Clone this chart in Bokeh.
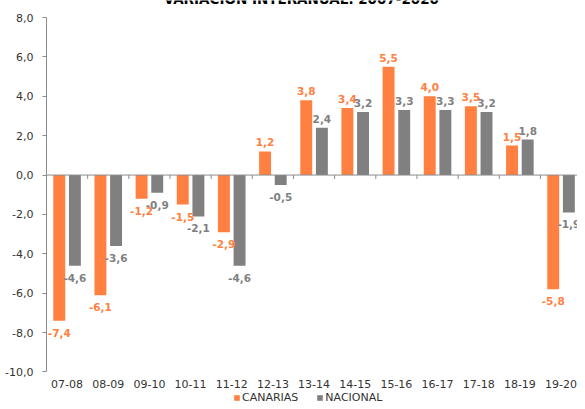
from bokeh.plotting import figure
from bokeh.models import (Range1d, FixedTicker, Span, Legend, LegendItem,
                          ColumnDataSource, Label)
from bokeh.core.properties import value
from bokeh.embed import file_html
from bokeh.resources import INLINE
import numpy as np

# ---- data ----
categories = ["07-08", "08-09", "09-10", "10-11", "11-12", "12-13", "13-14",
              "14-15", "15-16", "16-17", "17-18", "18-19", "19-20"]
canarias = [-7.4, -6.1, -1.2, -1.5, -2.9, 1.2, 3.8, 3.4, 5.5, 4.0, 3.5, 1.5, -5.8]
nacional = [-4.6, -3.6, -0.9, -2.1, -4.6, -0.5, 2.4, 3.2, 3.3, 3.3, 3.2, 1.8, -1.9]
y_ticks = [-10, -8, -6, -4, -2, 0, 2, 4, 6, 8]
title_text = "VARIACIÓN INTERANUAL. 2007-2020"

ORANGE = "#FF8040"
GRAY = "#808080"
AXIS = "#8C8C8C"
TXT = "#333333"
FONT = "DejaVu Sans"
OFF = 0.19
BW = 0.29
Y_MIN, Y_MAX = -10, 8
PX_PER_UNIT = 19.69          # vertical scale of the plotting area
TOP_PAD_PX, BOTTOM_PAD_PX = 17, 29.5

def fmt(v):
    return f"{v:.1f}".replace(".", ",")

xi = np.arange(len(categories))

p = figure(width=577, height=401, x_range=Range1d(-0.5, 12.4),
           y_range=Range1d(Y_MIN - BOTTOM_PAD_PX / PX_PER_UNIT,
                           Y_MAX + TOP_PAD_PX / PX_PER_UNIT),
           output_backend="svg", toolbar_location=None,
           min_border_left=46, min_border_right=0, min_border_top=0,
           min_border_bottom=0)
p.outline_line_color = None
p.xgrid.visible = False
p.ygrid.visible = False
p.background_fill_color = "white"
p.xaxis.visible = False

src = ColumnDataSource(dict(xo=xi - OFF, xg=xi + OFF, can=canarias, nac=nacional))
r1 = p.vbar(x="xo", top="can", bottom=0, width=BW, source=src,
            fill_color=ORANGE, line_color=None)
r2 = p.vbar(x="xg", top="nac", bottom=0, width=BW, source=src,
            fill_color=GRAY, line_color=None)

# zero line and category separators
p.add_layout(Span(location=0, dimension="width", line_color=AXIS, line_width=1))
bounds = xi + 0.5
tick_len = 0.2
p.segment(x0=bounds, y0=np.zeros(len(bounds)), x1=bounds,
          y1=np.full(len(bounds), -tick_len), line_color=AXIS, line_width=1)

# category labels under the plotting area
cat_src = ColumnDataSource(dict(x=xi, y=np.full(len(xi), Y_MIN), t=categories))
p.text(x="x", y="y", text="t", source=cat_src, text_align="center",
       text_baseline="middle", y_offset=12, text_color=TXT,
       text_font=value(FONT), text_font_size="11px")

# data labels
def add_labels(xs, vals, color):
    for sel, base, yoff in ((lambda v: v >= 0, "bottom", -5), (lambda v: v < 0, "top", 8)):
        idx = [i for i, v in enumerate(vals) if sel(v)]
        s = ColumnDataSource(dict(x=[xs[i] for i in idx], v=[vals[i] for i in idx],
                                  t=[fmt(vals[i]) for i in idx]))
        p.text(x="x", y="v", text="t", source=s, text_align="center",
               text_baseline=base, y_offset=yoff, text_color=color,
               text_font=value(FONT), text_font_style="bold", text_font_size="10.5px")

add_labels(xi - OFF, canarias, ORANGE)
add_labels(xi + OFF, nacional, GRAY)

# y axis
p.yaxis.bounds = (Y_MIN, Y_MAX)
p.yaxis.ticker = FixedTicker(ticks=y_ticks)
p.yaxis.major_label_overrides = {t: fmt(t) for t in y_ticks}
p.yaxis.minor_tick_line_color = None
p.yaxis.axis_line_color = AXIS
p.yaxis.major_tick_line_color = AXIS
p.yaxis.major_tick_in = 0
p.yaxis.major_tick_out = 4
p.yaxis.major_label_standoff = 9
p.yaxis.major_label_text_font = FONT
p.yaxis.major_label_text_font_size = "11px"
p.yaxis.major_label_text_color = TXT

# legend (bottom of the canvas, under the category labels)
legend = Legend(items=[LegendItem(label="CANARIAS", renderers=[r1]),
                       LegendItem(label="NACIONAL", renderers=[r2])],
                orientation="horizontal", location=(187, -3),
                glyph_width=7, glyph_height=7, label_standoff=2, spacing=18,
                padding=0, margin=0, border_line_color=None,
                background_fill_alpha=0, label_text_font=FONT,
                label_text_font_size="11px", label_text_color=TXT,
                label_height=9)
p.add_layout(legend, "center")

# title (cut off at top, as in the reference)
p.add_layout(Label(x=5.69, y=Y_MAX + 18 / PX_PER_UNIT, text=title_text,
                   text_align="center", text_baseline="alphabetic", text_font=FONT,
                   text_font_style="bold", text_font_size="13.5px",
                   text_color="#000000"))

open("out.html", "w").write(file_html(p, INLINE))
